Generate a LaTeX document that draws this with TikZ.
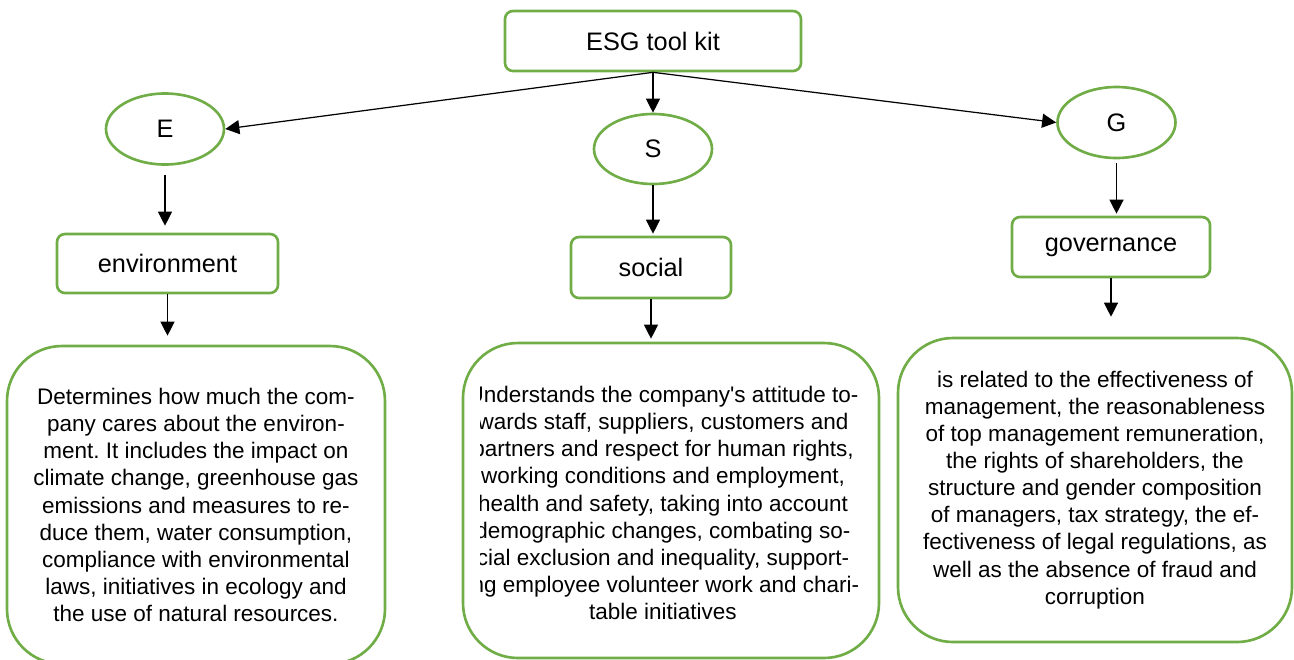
\documentclass[tikz,border=0pt]{standalone}
\usepackage{fontspec}
\setmainfont{Liberation Sans}
\usepackage{tikz}
\usetikzlibrary{shapes.geometric,arrows.meta,positioning}
\definecolor{esggreen}{HTML}{70AD47}
\frenchspacing

\begin{document}
\begin{tikzpicture}[
  kit/.style={draw=esggreen, line width=1.5pt, rounded corners=0.16cm, minimum width=5.92cm, minimum height=1.2cm, font=\fontsize{14.4}{17}\selectfont},
  oval/.style={draw=esggreen, line width=1.5pt, ellipse, minimum width=2.36cm, minimum height=1.42cm, inner sep=0pt, font=\fontsize{14.4}{17}\selectfont},
  cat/.style={draw=esggreen, line width=1.5pt, rounded corners=0.16cm, minimum height=1.2cm, font=\fontsize{14.4}{17}\selectfont},
  desc/.style={draw=esggreen, line width=1.5pt, rounded corners=1.1cm, align=center, font=\fontsize{12.8}{15.4}\selectfont},
  txt/.style={align=center, inner sep=0pt, font=\fontsize{12.8}{15.4}\selectfont},
  arr/.style={-{Triangle[width=8pt,length=8pt]}, line width=0.7pt}
]
\useasboundingbox (0,0) rectangle (25.88,-13.18);

% --- root and the three letters ---
\node[kit] (kit) at (13.06,-0.82) {ESG tool kit};
\node[oval] (e) at (3.3,-2.58) {E};
\node[oval, minimum height=1.4cm] (s) at (13.06,-2.98) {S};
\node[oval] (g) at (22.33,-2.45) {G};

% --- pillar names ---
\node[cat, minimum width=4.42cm, minimum height=1.18cm] (env) at (3.35,-5.27) {environment};
\node[cat, minimum width=3.2cm, minimum height=1.22cm] (soc) at (13.02,-5.35) {social};
\node[cat, minimum width=3.96cm] (gov) at (22.22,-4.94) {governance};

% --- descriptions ---
\node[desc, minimum width=7.56cm, minimum height=6.36cm] (envbox) at (3.92,-10.1) {Determines how much the com-\\
pany cares about the environ-\\
ment. It includes the impact on\\
climate change, greenhouse gas\\
emissions and measures to re-\\
duce them, water consumption,\\
compliance with environmental\\
laws, initiatives in ecology and\\
the use of natural resources.};

\node[desc, minimum width=8.32cm, minimum height=6.3cm] (socbox) at (13.42,-10.01) {};
\begin{scope}
  \clip (9.6,-6.9) rectangle (17.6,-13.1);
  \node[txt] (soctxt) at (13.26,-10.06) {Understands the company\textquotesingle s attitude to-\\
wards staff, suppliers, customers and\\
partners and respect for human rights,\\
working conditions and employment,\\
health and safety, taking into account\\
demographic changes, combating so-\\
cial exclusion and inequality, support-\\
ing employee volunteer work and chari-\\
table initiatives};
\end{scope}

\node[desc, minimum width=7.88cm, minimum height=6.08cm] (govbox) at (21.9,-9.8) {is related to the effectiveness of\\
management, the reasonableness\\
of top management remuneration,\\
the rights of shareholders, the\\
structure and gender composition\\
of managers, tax strategy, the ef-\\
fectiveness of legal regulations, as\\
well as the absence of fraud and\\
corruption};

% --- arrows ---
\draw[arr] (kit.south) -- (e.east);
\draw[arr] (kit.south) -- (s.north);
\draw[arr] (kit.south) -- (g.west);
\draw[arr, shorten <=0.18cm, shorten >=0.14cm] (e.south) -- (e.south |- env.north);
\draw[arr, shorten >=0.04cm] (s.south) -- (s.south |- soc.north);
\draw[arr, shorten <=0.08cm, shorten >=0.04cm] (g.south) -- (g.south |- gov.north);
\draw[arr, shorten >=0.18cm] (env.south) -- (env.south |- envbox.north);
\draw[arr, shorten >=0.06cm] (soc.south) -- (soc.south |- socbox.north);
\draw[arr, shorten >=0.4cm] (gov.south) -- (gov.south |- govbox.north);
\end{tikzpicture}
\end{document}
